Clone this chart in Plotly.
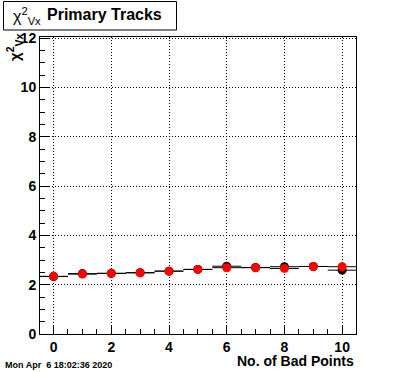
import plotly.graph_objects as go

# Data
bad_points = [0, 1, 2, 3, 4, 5, 6, 7, 8, 9, 10]
chi2_black = [2.33, 2.45, 2.46, 2.49, 2.55, 2.62, 2.75, 2.70, 2.73, 2.74, 2.59]
chi2_red = [2.34, 2.43, 2.46, 2.48, 2.55, 2.62, 2.69, 2.69, 2.66, 2.74, 2.73]
half_width = [0.5] * len(bad_points)

W, H = 396, 372
L, R, T, B = 40, 356, 37, 334  # pixel coords of the frame

def px(x):
    return (x - L) / (R - L)

def py(y):
    return (B - y) / (B - T)

FONT = "Liberation Sans"

fig = go.Figure()
fig.add_trace(go.Scatter(
    x=bad_points, y=chi2_black, mode="markers",
    marker=dict(color="black", size=9),
    error_x=dict(type="data", array=half_width, color="black", thickness=1, width=0),
    showlegend=False,
))
fig.add_trace(go.Scatter(
    x=bad_points, y=chi2_red, mode="markers",
    marker=dict(color="#ff0000", size=9),
    error_x=dict(type="data", array=half_width, color="black", thickness=1, width=0),
    showlegend=False,
))

axis_common = dict(
    showline=True, linecolor="black", linewidth=1, mirror=True,
    ticks="inside", ticklen=9, tickwidth=1, tickcolor="black",
    showgrid=True, gridcolor="black", griddash="1px,2px", gridwidth=1,
    zeroline=False,
    tickfont=dict(family=FONT, size=14, color="black", weight="bold"),
)

fig.update_xaxes(range=[-0.47, 10.48], dtick=2, tick0=0,
                 minor=dict(dtick=0.5, ticks="inside", ticklen=5, tickcolor="black", showgrid=False),
                 **axis_common)
fig.update_yaxes(range=[0, 12.05], dtick=2, tick0=0,
                 minor=dict(dtick=0.5, ticks="inside", ticklen=5, tickcolor="black", showgrid=False),
                 **axis_common)

fig.update_layout(
    width=W, height=H,
    margin=dict(l=L, r=W - R, t=T, b=H - B, pad=0),
    paper_bgcolor="white", plot_bgcolor="white",
    shapes=[dict(type="rect", xref="paper", yref="paper",
                 x0=px(3.5), x1=px(176.5), y0=py(30), y1=py(1.5),
                 line=dict(color="black", width=1), fillcolor="white", layer="above")],
    annotations=[
        dict(text="χ<sup>2</sup><sub>Vx</sub>", xref="paper", yref="paper",
             x=px(11), y=py(16), xanchor="left", yanchor="middle", showarrow=False,
             font=dict(family=FONT, size=16, color="black")),
        dict(text="<b>Primary Tracks</b>", xref="paper", yref="paper",
             x=px(45), y=py(15), xanchor="left", yanchor="middle", showarrow=False,
             font=dict(family=FONT, size=16, color="black")),
        dict(text="<b>χ<sup>2</sup><sub>Vx</sub></b>", xref="paper", yref="paper",
             x=px(14), y=py(48), xanchor="center", yanchor="middle", showarrow=False,
             textangle=-90, font=dict(family=FONT, size=15, color="black")),
        dict(text="<b>No. of Bad Points</b>", xref="paper", yref="paper",
             x=px(356), y=py(361), xanchor="right", yanchor="middle", showarrow=False,
             font=dict(family=FONT, size=14, color="black")),
        dict(text="<b>Mon Apr&nbsp; 6 18:02:36 2020</b>", xref="paper", yref="paper",
             x=px(2.5), y=py(365), xanchor="left", yanchor="middle", showarrow=False,
             font=dict(family=FONT, size=9, color="black")),
    ],
)

fig.write_html("out.html", config={"displayModeBar": False},
               post_script="document.body.style.margin='0';")
